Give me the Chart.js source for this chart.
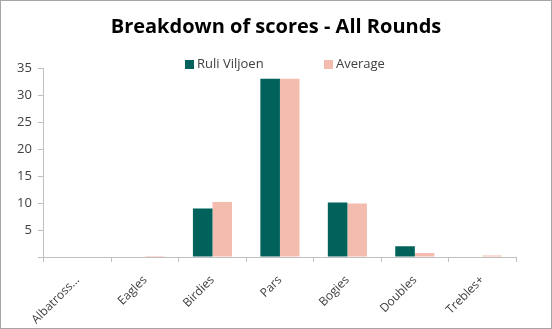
<!DOCTYPE html>
<html lang="en">
<head>
  <meta charset="UTF-8">
  <title>Breakdown of scores</title>
  <script src="https://cdn.jsdelivr.net/npm/chart.js"></script>
  <style>
    body { margin: 0; background: #fff; }
    #wrap { width: 552px; height: 329px; box-sizing: border-box; border: 1px solid #a6a6a6; position: relative; }
  </style>
</head>
<body>
  <div id="wrap">
    <canvas id="myChart" width="550" height="327"></canvas>
  </div>
  <script>
    // data
    const categories = ['Albatross...', 'Eagles', 'Birdies', 'Pars', 'Bogies', 'Doubles', 'Trebles+'];
    const playerScores = [0, 0, 9, 33, 10.1, 2, 0];
    const averageScores = [0, 0.2, 10.2, 33, 9.9, 0.75, 0.3];
    const yTicks = [0, 5, 10, 15, 20, 25, 30, 35];
    const chartTitle = 'Breakdown of scores - All Rounds';

    const teal = '#00625a';
    const pink = '#f4bcae';
    const fontFamily = '"Open Sans", "Noto Sans", sans-serif';

    // title + legend drawn by hand, legend overlaps the top of the plot like the original
    const headerPlugin = {
      id: 'header',
      afterDraw(chart) {
        const ctx = chart.ctx;
        ctx.save();
        ctx.textBaseline = 'middle';
        ctx.textAlign = 'center';
        ctx.fillStyle = '#000';
        ctx.font = 'bold 20px ' + fontFamily;
        ctx.fillText(chartTitle, 275, 26);

        ctx.textAlign = 'left';
        ctx.font = '13px ' + fontFamily;
        const xs = [184, 323];
        chart.data.datasets.forEach((ds, i) => {
          ctx.fillStyle = ds.backgroundColor;
          ctx.fillRect(xs[i], 59, 9, 9);
          ctx.fillStyle = '#404040';
          ctx.fillText(ds.label, xs[i] + 12, 63);
        });
        ctx.restore();
      }
    };

    const ctx = document.getElementById('myChart').getContext('2d');
    new Chart(ctx, {
      type: 'bar',
      data: {
        labels: categories,
        datasets: [{
          label: 'Ruli Viljoen',
          data: playerScores,
          backgroundColor: teal,
          categoryPercentage: 0.58,
          barPercentage: 1
        }, {
          label: 'Average',
          data: averageScores,
          backgroundColor: pink,
          categoryPercentage: 0.58,
          barPercentage: 1
        }]
      },
      options: {
        responsive: false,
        animation: false,
        layout: { padding: { left: 10, right: 35, top: 67, bottom: 0 } },
        plugins: {
          legend: { display: false },
          tooltip: { enabled: false },
          title: { display: false }
        },
        scales: {
          y: {
            min: 0,
            max: 35,
            afterBuildTicks: axis => { axis.ticks = yTicks.map(v => ({ value: v })); },
            ticks: {
              color: '#404040',
              font: { family: fontFamily, size: 13 },
              padding: 6,
              callback: v => (v === 0 ? '' : v)
            },
            grid: { drawOnChartArea: false, color: '#bfbfbf', tickLength: 6 },
            border: { color: '#bfbfbf' }
          },
          x: {
            afterFit: scale => { scale.height = 71; },
            ticks: {
              color: '#404040',
              font: { family: fontFamily, size: 12 },
              maxRotation: 45,
              minRotation: 45,
              padding: 11
            },
            grid: { drawOnChartArea: false, color: '#bfbfbf', tickLength: 5, offset: true },
            border: { color: '#bfbfbf' }
          }
        }
      },
      plugins: [headerPlugin]
    });
  </script>
</body>
</html>
